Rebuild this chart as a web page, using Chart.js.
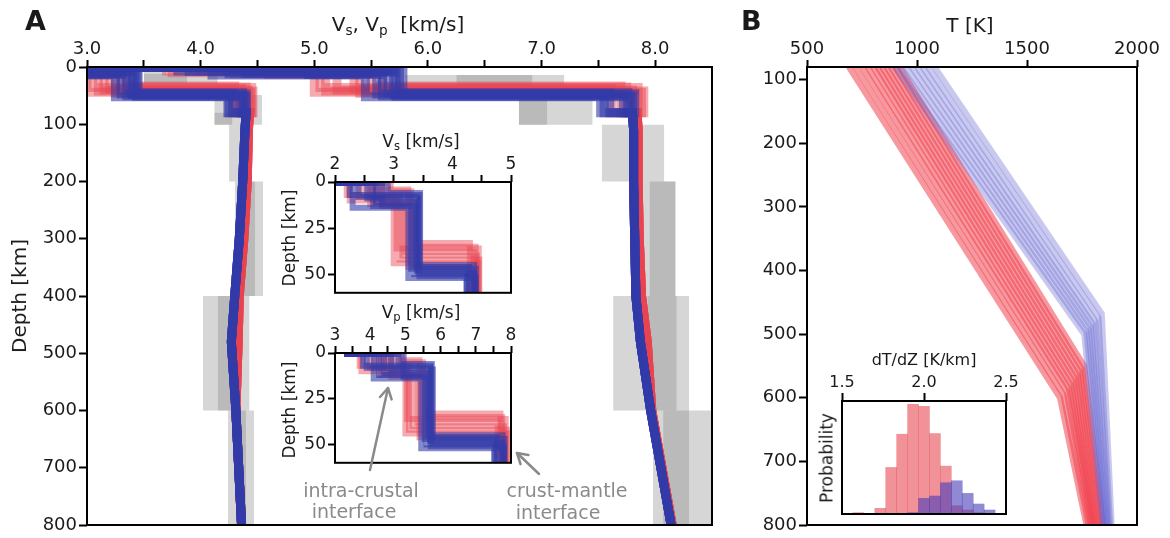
<!DOCTYPE html>
<html><head><meta charset="utf-8">
<script src="https://cdn.jsdelivr.net/npm/chart.js@4/dist/chart.umd.min.js"></script>
<style>
html,body{margin:0;padding:0;background:#fff;}
#wrap{position:relative;width:1170px;height:538px;overflow:hidden;font-family:"DejaVu Sans",sans-serif;color:#1a1a1a;}
canvas{position:absolute;}
.t{position:absolute;white-space:nowrap;line-height:1;}
.c{transform:translateX(-50%);}
.rot{transform:translate(-50%,-50%) rotate(-90deg);}
.g{color:#8a8a8a;}
sub{font-size:68%;vertical-align:-0.28em;line-height:0;}
svg{position:absolute;left:0;top:0;}
</style></head><body>
<div id="wrap">
<canvas id="cA" width="720" height="538" style="left:0;top:0"></canvas>
<canvas id="cB" width="430" height="538" style="left:740px;top:0"></canvas>
<canvas id="cVs" width="230" height="165" style="left:290px;top:140px"></canvas>
<canvas id="cVp" width="230" height="160" style="left:290px;top:315px"></canvas>
<canvas id="cH" width="225" height="190" style="left:800px;top:345px"></canvas>

<div class="t" style="left:25px;top:7px;font-size:27px;font-weight:bold;">A</div>
<div class="t" style="left:741px;top:7px;font-size:27px;font-weight:bold;">B</div>
<div class="t c" style="left:398px;top:14px;font-size:20px;">V<sub>s</sub>, V<sub>p</sub>&nbsp; [km/s]</div>
<div class="t c" style="left:970px;top:15px;font-size:20px;">T [K]</div>
<div class="t rot" style="left:19px;top:296px;font-size:20px;">Depth [km]</div>
<div class="t c" style="left:421px;top:133px;font-size:17px;">V<sub>s</sub> [km/s]</div>
<div class="t c" style="left:421px;top:304px;font-size:17px;">V<sub>p</sub> [km/s]</div>
<div class="t rot" style="left:289px;top:238px;font-size:17px;">Depth [km]</div>
<div class="t rot" style="left:289px;top:410px;font-size:17px;">Depth [km]</div>
<div class="t c" style="left:924px;top:352px;font-size:16px;">dT/dZ [K/km]</div>
<div class="t rot" style="left:827px;top:458px;font-size:17px;">Probability</div>
<div class="t c g" style="left:361px;top:481px;font-size:19px;">intra-crustal</div>
<div class="t c g" style="left:354px;top:502px;font-size:19px;">interface</div>
<div class="t c g" style="left:567px;top:481px;font-size:19px;">crust-mantle</div>
<div class="t c g" style="left:558px;top:503px;font-size:19px;">interface</div>

<svg width="1170" height="538">
 <g stroke="#8a8a8a" stroke-width="2.5" fill="none" stroke-linecap="round" stroke-linejoin="round">
  <line x1="370" y1="470" x2="388" y2="388"/>
  <polyline points="380,397 388,388 391.6,399.4"/>
  <line x1="539" y1="474" x2="517" y2="453"/>
  <polyline points="520.5,464.1 517,453 528.4,455.1"/>
 </g>
</svg>
</div>

<script>
// ---------- tick values ----------
const velTicksMain = [3, 3.5, 4, 4.5, 5, 5.5, 6, 6.5, 7, 7.5, 8];
const velLabelsMain = [3, 4, 5, 6, 7, 8];
const depthTicksMain = [0, 100, 200, 300, 400, 500, 600, 700, 800];
const vsInsetTicks = [2, 2.5, 3, 3.5, 4, 4.5, 5];
const vsInsetLabels = [2, 3, 4, 5];
const vpInsetTicks = [3, 3.5, 4, 4.5, 5, 5.5, 6, 6.5, 7, 7.5, 8];
const vpInsetLabels = [3, 4, 5, 6, 7, 8];
const depthInsetTicks = [0, 25, 50];
const tempTicks = [500, 1000, 1500, 2000];
const depthTicksB = [100, 200, 300, 400, 500, 600, 700, 800];
const gradTicks = [1.5, 2.0, 2.5];

// ---------- crustal models (shared by panel A and insets) ----------
const sedDepth = 0.6, sedVs = 1.9, sedVp = 3.35;
const blueD1    = [8, 11, 6, 14, 9, 12, 7, 13];
const blueD2    = [48, 50, 46, 52, 49, 47, 51, 45];
const blueVsUp  = [2.40, 2.70, 2.90, 2.30, 2.55, 2.80, 2.25, 2.65];
const blueVsMid = [3.40, 3.35, 3.45, 3.25, 3.42, 3.30, 3.44, 3.38];
const blueVsMan = [4.25, 4.38, 4.28, 4.40, 4.35, 4.40, 4.24, 4.37];
const blueVpUp  = [3.90, 4.40, 4.80, 4.10, 4.60, 4.25, 3.80, 4.95];
const blueVpMid = [5.70, 5.60, 5.75, 5.45, 5.78, 5.55, 5.72, 5.65];
const blueVpMan = [7.55, 7.78, 7.60, 7.80, 7.72, 7.82, 7.52, 7.76];
const redD1     = [10, 12, 5, 8, 13, 7, 11, 4];
const redD2     = [36, 40, 33, 44, 38, 42, 35, 46];
const redVsUp   = [2.25, 2.60, 2.95, 2.40, 2.80, 2.20, 2.70, 2.50];
const redVsMid  = [3.05, 3.15, 3.30, 3.00, 3.20, 3.10, 3.35, 3.25];
const redVsMan  = [4.45, 4.42, 4.30, 4.44, 4.36, 4.46, 4.40, 4.32];
const redVpUp   = [3.75, 4.30, 4.90, 4.00, 4.60, 3.70, 4.45, 4.15];
const redVpMid  = [5.05, 5.20, 5.50, 5.00, 5.35, 5.10, 5.60, 5.40];
const redVpMan  = [7.85, 7.80, 7.70, 7.88, 7.62, 7.90, 7.75, 7.82];

// ---------- mantle profiles ----------
const mantleDepth  = [80, 110, 200, 300, 400, 480, 600, 800];
const blueMantleVs = [4.40, 4.39, 4.37, 4.34, 4.30, 4.27, 4.31, 4.36];
const redMantleVs  = [4.43, 4.42, 4.41, 4.38, 4.34, 4.33, 4.31, 4.36];
const blueMantleVp = [7.80, 7.81, 7.81, 7.82, 7.83, 7.87, 7.96, 8.14];
const redMantleVp  = [7.84, 7.85, 7.85, 7.86, 7.88, 7.93, 7.97, 8.15];

// ---------- reference model ranges (grey boxes) ----------
const boxVmin   = [3.50, 3.50, 3.50, 4.12, 4.12, 4.42, 4.25, 4.30, 4.37, 4.02, 4.15, 4.24, 4.35, 5.80, 6.25, 6.80, 6.80, 7.53, 7.80, 7.95, 7.63, 7.93, 7.98, 8.07];
const boxVmax   = [3.70, 4.15, 3.88, 4.40, 4.28, 4.54, 4.42, 4.48, 4.55, 4.35, 4.43, 4.40, 4.47, 6.92, 7.20, 7.45, 7.05, 8.08, 8.18, 8.18, 8.19, 8.30, 8.30, 8.50];
const boxTop    = [0, 12, 12, 57, 80, 49, 101, 200, 200, 400, 400, 600, 600, 14, 14, 57, 57, 101, 200, 200, 400, 400, 600, 600];
const boxBottom = [12, 30, 28, 101, 101, 101, 200, 400, 400, 600, 600, 800, 800, 33, 33, 101, 101, 200, 400, 400, 600, 600, 800, 800];

// ---------- panel B geotherms ----------
const redT80    = [690, 720, 750, 775, 800, 820, 840, 860, 880, 900, 920];
const redKinkD  = [600, 595, 590, 585, 580, 575, 570, 565, 560, 555, 550];
const redKinkT  = [1650, 1665, 1680, 1690, 1700, 1710, 1720, 1730, 1740, 1750, 1760];
const redT800   = [1770, 1780, 1790, 1795, 1800, 1805, 1812, 1820, 1828, 1835, 1845];
const blueT80   = [900, 925, 950, 975, 1000, 1025, 1050, 1080];
const blueKinkD = [500, 496, 492, 488, 484, 480, 474, 468];
const blueKinkT = [1760, 1770, 1780, 1790, 1800, 1812, 1825, 1840];
const blueT800  = [1845, 1850, 1855, 1860, 1866, 1872, 1878, 1885];
const geoTopDepth = 80, geoBottomDepth = 800;

// ---------- dT/dZ histogram ----------
const gradBins  = [1.6, 1.6667, 1.7333, 1.8, 1.8667, 1.9333, 2.0, 2.0667, 2.1333, 2.2, 2.2667, 2.3333, 2.4];
const gradRed   = [4, 0, 17, 140, 240, 330, 324, 242, 144, 25, 12, 4, 0];
const gradBlue  = [0, 0, 0, 0, 0, 4, 47, 54, 94, 100, 62, 30, 12];

// ---------- styles ----------
const FONT = 'DejaVu Sans';
const BOX = 'rgba(128,128,128,0.32)';
const RED_A = 'rgba(232,66,80,0.45)';
const BLUE_A = 'rgba(50,58,168,0.6)';
const RED_B = 'rgba(240,68,80,0.55)';
const BLUE_B = 'rgba(100,100,210,0.35)';

function mkScale(o) {
  return {
    type: 'linear', position: o.position, min: o.min, max: o.max, reverse: !!o.reverse,
    offset: false, display: o.display !== false,
    afterBuildTicks: s => { s.ticks = o.ticks.map(v => ({ value: v })); },
    afterFit: s => { if (o.isX) s.height = o.size; else s.width = o.size; },
    ticks: {
      autoSkip: false, maxRotation: 0, minRotation: 0, padding: o.pad, color: '#1a1a1a',
      font: { family: FONT, size: o.font },
      callback: v => (o.labels ? (o.labels.some(l => Math.abs(l - v) < 1e-9) ? o.fmt(v) : '') : o.fmt(v))
    },
    grid: { display: true, offset: false, drawOnChartArea: false, drawTicks: true, tickLength: o.tl, tickWidth: 2, tickColor: '#000', color: '#000' },
    border: { display: false }
  };
}
const framePlugin = {
  id: 'frame',
  afterDraw(chart) {
    const { ctx, chartArea: a } = chart;
    ctx.save(); ctx.strokeStyle = '#000'; ctx.lineWidth = 2;
    ctx.strokeRect(a.left, a.top, a.right - a.left, a.bottom - a.top);
    ctx.restore();
  }
};
function lineDs(data, color, width) {
  return { data, showLine: true, borderColor: color, borderWidth: width, pointRadius: 0, fill: false, clip: 0, tension: 0, borderJoinStyle: 'miter', borderCapStyle: 'butt' };
}
function boxDs(i) {
  return { data: [{ x: boxVmin[i], y: boxTop[i] }, { x: boxVmax[i], y: boxTop[i] }], showLine: true,
    borderColor: 'rgba(0,0,0,0)', borderWidth: 1, pointRadius: 0, fill: { value: boxBottom[i] }, backgroundColor: BOX, clip: 0 };
}
function profile(sedV, up, mid, man, d1, d2, mantleV) {
  const pts = [{ x: sedV, y: 0 }, { x: sedV, y: sedDepth }, { x: up, y: sedDepth }, { x: up, y: d1 }, { x: mid, y: d1 },
    { x: mid, y: d2 }, { x: man, y: d2 }, { x: man, y: mantleDepth[0] }];
  mantleDepth.forEach((d, k) => pts.push({ x: mantleV[k], y: d }));
  return pts;
}
// datasets are listed in paint order; Chart.js paints the first dataset last, so reverse them
function paintOrder(list) { return list.slice().reverse(); }
function baseOpts(scales, padding) {
  return {
    responsive: false, animation: false, devicePixelRatio: 1, events: [],
    layout: { padding },
    plugins: { legend: { display: false }, tooltip: { enabled: false } },
    scales
  };
}

// profiles
const redVs = redD1.map((d, i) => profile(sedVs, redVsUp[i], redVsMid[i], redVsMan[i], d, redD2[i], redMantleVs));
const redVp = redD1.map((d, i) => profile(sedVp, redVpUp[i], redVpMid[i], redVpMan[i], d, redD2[i], redMantleVp));
const blueVs = blueD1.map((d, i) => profile(sedVs, blueVsUp[i], blueVsMid[i], blueVsMan[i], d, blueD2[i], blueMantleVs));
const blueVp = blueD1.map((d, i) => profile(sedVp, blueVpUp[i], blueVpMid[i], blueVpMan[i], d, blueD2[i], blueMantleVp));

// ---------- Panel A ----------
const dsA = [];
boxVmin.forEach((_, i) => dsA.push(boxDs(i)));
redVs.forEach(p => dsA.push(lineDs(p, RED_A, 9)));
redVp.forEach(p => dsA.push(lineDs(p, RED_A, 9)));
blueVs.forEach(p => dsA.push(lineDs(p, BLUE_A, 9)));
blueVp.forEach(p => dsA.push(lineDs(p, BLUE_A, 9)));
new Chart(document.getElementById('cA'), {
  type: 'scatter', data: { datasets: paintOrder(dsA) },
  options: baseOpts({
    x: mkScale({ position: 'top', min: 3, max: 8.5, ticks: velTicksMain, labels: velLabelsMain, fmt: v => v.toFixed(1), isX: true, size: 67, font: 18, tl: 7, pad: 0 }),
    y: mkScale({ position: 'left', min: 0, max: 800, reverse: true, ticks: depthTicksMain, fmt: v => String(v), size: 87, font: 18, tl: 8, pad: 2 })
  }, { left: 0, right: 8, top: 0, bottom: 13 }),
  plugins: [framePlugin]
});

// ---------- Insets ----------
function insetChart(id, redP, blueP, min, max, ticks, labels, padBottom, xh) {
  const ds = [];
  redP.forEach(p => ds.push(lineDs(p, RED_A, 6)));
  blueP.forEach(p => ds.push(lineDs(p, BLUE_A, 6)));
  new Chart(document.getElementById(id), {
    type: 'scatter', data: { datasets: paintOrder(ds) },
    options: baseOpts({
      x: mkScale({ position: 'top', min, max, ticks, labels, fmt: v => String(v), isX: true, size: xh, font: 17, tl: 7, pad: 0 }),
      y: mkScale({ position: 'left', min: 0, max: 60, reverse: true, ticks: depthInsetTicks, fmt: v => String(v), size: 45, font: 17, tl: 7, pad: 2 })
    }, { left: 0, right: 9, top: 0, bottom: padBottom }),
    plugins: [framePlugin]
  });
}
insetChart('cVs', redVs, blueVs, 2, 5, vsInsetTicks, vsInsetLabels, 9, 42);
insetChart('cVp', redVp, blueVp, 3, 8, vpInsetTicks, vpInsetLabels, 7, 38);

// ---------- Panel B ----------
const dsB = [];
redT80.forEach((t, i) => dsB.push(lineDs([{ x: t, y: geoTopDepth }, { x: redKinkT[i], y: redKinkD[i] }, { x: redT800[i], y: geoBottomDepth }], RED_B, 6)));
blueT80.forEach((t, i) => dsB.push(lineDs([{ x: t, y: geoTopDepth }, { x: blueKinkT[i], y: blueKinkD[i] }, { x: blueT800[i], y: geoBottomDepth }], BLUE_B, 6)));
new Chart(document.getElementById('cB'), {
  type: 'scatter', data: { datasets: paintOrder(dsB) },
  options: baseOpts({
    x: mkScale({ position: 'top', min: 500, max: 2000, ticks: tempTicks, fmt: v => String(v), isX: true, size: 67, font: 18, tl: 7, pad: 0 }),
    y: mkScale({ position: 'left', min: 80, max: 800, reverse: true, ticks: depthTicksB, fmt: v => String(v), size: 67, font: 18, tl: 8, pad: 2 })
  }, { left: 0, right: 33, top: 0, bottom: 13 }),
  plugins: [framePlugin]
});

// ---------- Histogram ----------
new Chart(document.getElementById('cH'), {
  type: 'bar',
  data: { datasets: paintOrder([
    { data: gradBins.map((b, i) => ({ x: b, y: gradRed[i] })), backgroundColor: 'rgba(232,78,88,0.62)', borderWidth: 0, grouped: false, barPercentage: 1, categoryPercentage: 1 },
    { data: gradBins.map((b, i) => ({ x: b, y: gradBlue[i] })), backgroundColor: 'rgba(70,60,185,0.6)', borderWidth: 0, grouped: false, barPercentage: 1, categoryPercentage: 1 }
  ]) },
  options: baseOpts({
    x: mkScale({ position: 'top', min: 1.5, max: 2.5, ticks: gradTicks, fmt: v => v.toFixed(1), isX: true, size: 56, font: 16, tl: 8, pad: 1 }),
    y: { type: 'linear', display: false, min: 0, max: 340 }
  }, { left: 42, right: 19, top: 0, bottom: 21 }),
  plugins: [framePlugin]
});
</script>
</body></html>
